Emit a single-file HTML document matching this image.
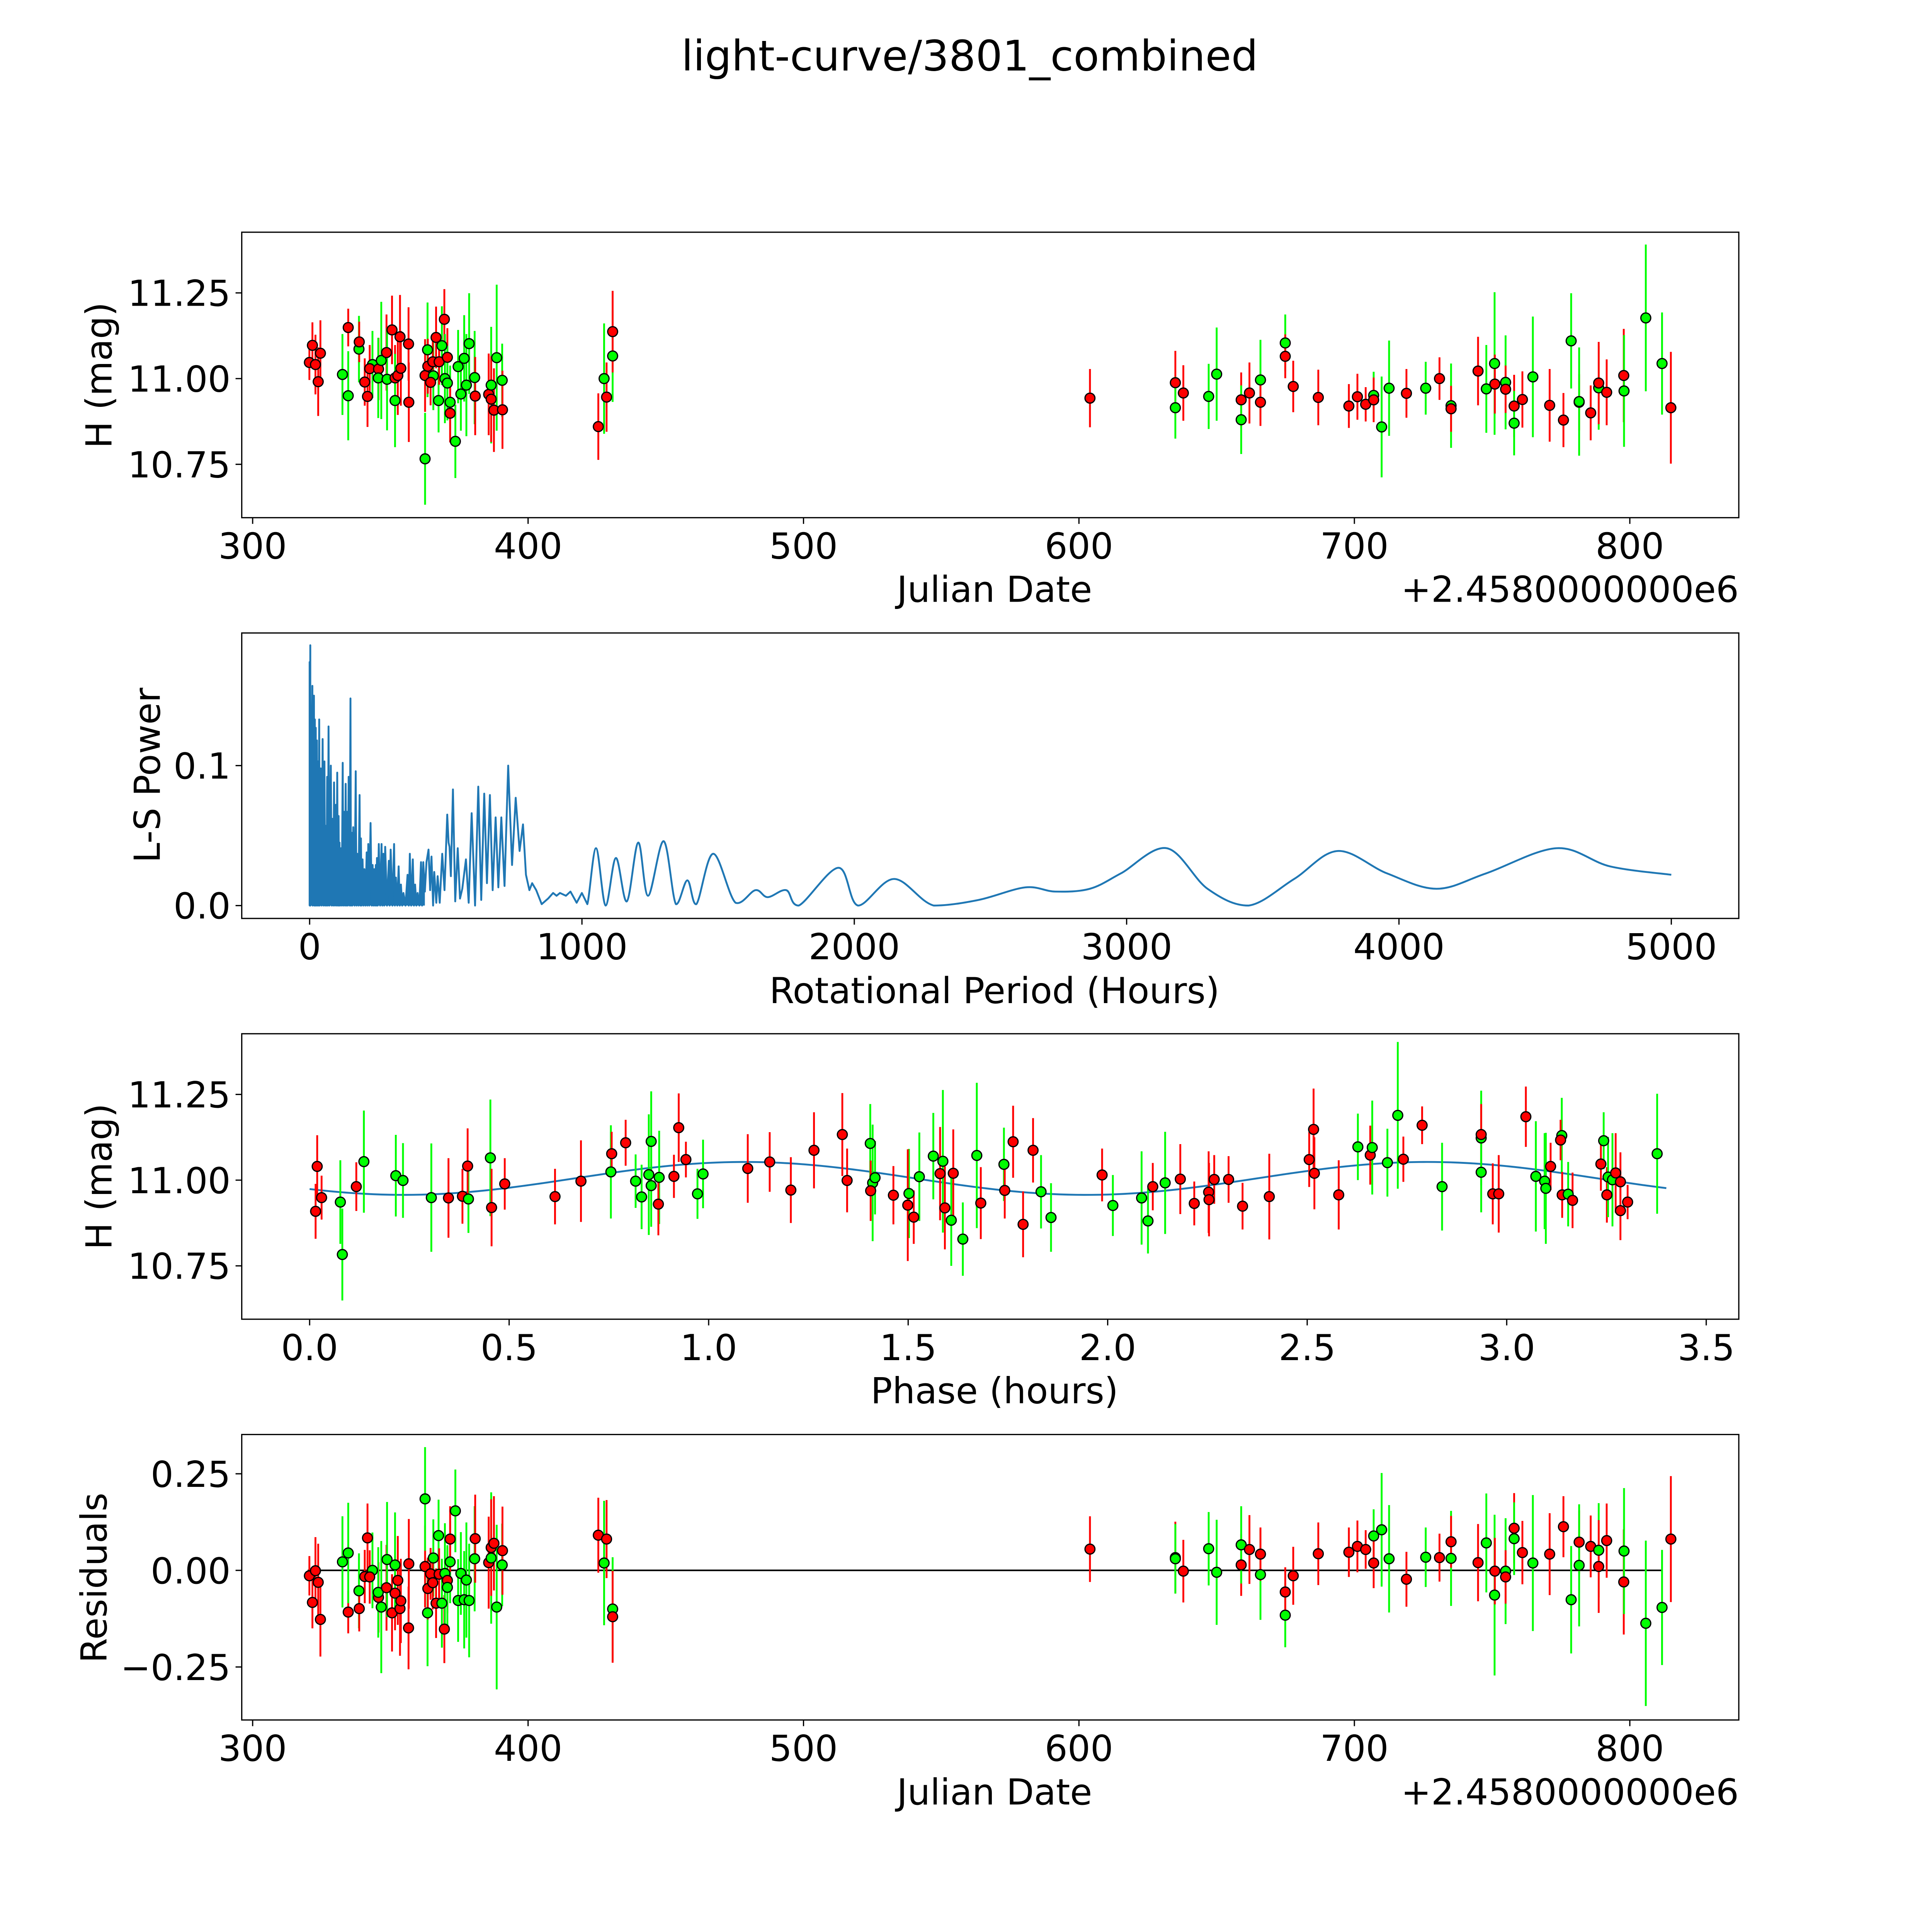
<!DOCTYPE html>
<html><head><meta charset="utf-8"><style>
html,body{margin:0;padding:0;background:#fff;width:100%;height:100%;overflow:hidden;}
svg{display:block;position:absolute;left:0;top:0;width:100vw;height:100vh;}
text{font-family:"DejaVu Sans","Liberation Sans",sans-serif;fill:#000;}
</style></head><body>
<svg id="fig" xmlns="http://www.w3.org/2000/svg" viewBox="0 0 1560 1560" preserveAspectRatio="none">
<rect x="0" y="0" width="1560" height="1560" fill="#fff"/>
<text x="783" y="57" font-size="34" text-anchor="middle">light-curve/3801_combined</text>
</svg>
<script>
// ---- time-domain observations ----
const jdDates = [320.6,321.7,322.8,324.6,323.8,332.6,334.7,334.7,338.6,338.7,340.7,341.7,343.5,342.5,345.7,345.6,346.7,348.6,348.8,350.6,351.7,351.7,352.7,353.5,353.8,356.6,356.7,362.6,362.6,363.5,363.6,365.6,364.6,365.4,366.6,367.5,367.7,368.7,369.6,369.8,370.7,370.7,371.7,371.7,373.6,374.6,375.6,376.8,377.6,378.6,380.6,380.8,385.7,386.6,386.6,387.6,388.6,390.6,390.7,425.5,427.6,428.5,430.7,430.7,604.0,635.0,635.0,637.9,647.1,650.0,658.9,658.9,661.9,665.9,665.9,674.9,674.9,677.8,686.9,698.0,701.1,704.1,707.0,707.0,709.9,712.6,718.9,725.9,730.9,735.1,735.1,744.9,747.9,750.9,751.0,754.9,754.9,758.0,758.0,761.0,764.8,770.9,775.9,778.7,781.6,781.6,785.8,788.7,788.7,791.6,797.8,797.9,805.8,811.7,814.9];
const magnitudes = [11.047,11.097,11.041,11.074,10.991,11.012,11.149,10.950,11.086,11.107,10.990,10.948,11.041,11.029,11.028,11.002,11.053,11.076,10.998,11.142,11.002,10.936,11.009,11.122,11.030,11.101,10.931,11.009,10.766,11.084,11.036,11.008,10.989,11.049,11.120,10.936,11.049,11.096,11.173,11.000,11.062,10.987,10.931,10.899,10.817,11.035,10.955,11.059,10.981,11.102,11.003,10.949,10.954,10.981,10.940,10.908,11.061,10.995,10.909,10.860,11.000,10.946,11.066,11.137,10.943,10.988,10.915,10.958,10.948,11.013,10.938,10.880,10.958,10.996,10.931,11.104,11.065,10.977,10.945,10.920,10.947,10.925,10.951,10.938,10.859,10.972,10.957,10.972,11.000,10.921,10.912,11.022,10.970,11.044,10.984,10.989,10.969,10.920,10.870,10.939,11.005,10.922,10.879,11.110,10.931,10.933,10.900,10.973,10.987,10.960,11.009,10.964,11.177,11.044,10.915];
const magErrors = [.051,.067,.087,.096,.10,.118,.055,.13,.097,.059,.069,.089,.098,.069,.091,.117,.171,.111,.149,.10,.096,.136,.115,.122,.109,.107,.116,.106,.134,.138,.08,.10,.067,.069,.09,.093,.067,.115,.088,.13,.085,.109,.107,.085,.107,.107,.107,.126,.149,.147,.136,.114,.119,.17,.125,.122,.213,.107,.114,.097,.161,.101,.134,.119,.085,.093,.09,.081,.095,.136,.08,.10,.089,.117,.069,.083,.064,.075,.081,.064,.067,.05,.069,.065,.147,.139,.071,.077,.062,.123,.067,.10,.128,.208,.086,.137,.069,.091,.094,.082,.176,.106,.079,.139,.082,.158,.08,.122,.12,.096,.136,.163,.214,.149,.163];
const filterBand = "RRRRRGRGGR RRGRRGGRGR RGRRRRRRGG RGRRRGRGRG RGGRGGGGGG GRRGRRGGRR GRGR R RGRGGRGRGR GRRRRRRGRG GRGRGR RGGRGRRGRG RRGRGRGRRR GGGR".replace(/ /g,'').split('');
const residuals = [-0.014,-0.083,-0.001,-0.127,-0.031,0.022,-0.108,0.045,-0.053,-0.099,-0.016,0.084,0.000,-0.017,-0.070,-0.057,-0.095,-0.045,0.028,-0.110,-0.059,0.014,-0.026,-0.099,-0.079,-0.149,0.017,0.010,0.185,-0.110,-0.047,0.032,-0.009,-0.032,-0.085,0.090,-0.010,-0.085,-0.152,-0.008,-0.026,-0.044,0.022,0.081,0.154,-0.078,-0.008,-0.076,-0.025,-0.078,0.030,0.082,0.020,0.032,0.059,0.070,-0.095,0.014,0.051,0.091,0.019,0.081,-0.100,-0.120,0.055,0.033,0.030,-0.002,0.056,-0.005,0.014,0.066,0.054,-0.011,0.042,-0.116,-0.056,-0.014,0.043,0.047,0.062,0.054,0.089,0.019,0.105,0.030,-0.023,0.034,0.033,0.031,0.074,0.020,0.071,-0.064,-0.002,-0.002,-0.017,0.109,0.082,0.046,0.019,0.042,0.113,-0.076,0.073,0.013,0.062,0.052,0.010,0.077,-0.030,0.050,-0.137,-0.096,0.081];
// ---- phase-folded observations ----
const phaseVals = [0.019,0.015,0.030,0.077,0.082,0.117,0.136,0.216,0.234,0.305,0.348,0.383,0.398,0.396,0.453,0.456,0.489,0.615,0.680,0.755,0.757,0.792,0.817,0.832,0.850,0.856,0.856,0.876,0.874,0.913,0.925,0.943,0.972,0.986,1.098,1.153,1.206,
1.264,1.335,1.347,1.405,1.411,1.406,1.417,1.463,1.502,1.499,1.514,1.528,1.563,1.580,1.587,1.592,1.613,1.608,1.637,1.672,1.682,1.740,1.742,1.763,1.788,1.813,1.833,1.858,1.986,2.013,2.085,2.101,2.113,2.144,2.182,2.217,2.253,2.254,2.267,2.303,2.338,2.405,2.505,2.516,2.518,2.579,2.627,2.658,2.663,
2.701,2.727,2.741,2.788,2.838,2.936,2.936,2.936,2.965,2.980,3.048,3.073,3.095,3.098,3.110,3.138,3.135,3.139,3.154,3.165,3.236,3.243,3.251,3.254,3.265,3.273,3.285,3.285,3.303,3.377];
const phaseMags = [11.040,10.909,10.949,10.936,10.783,10.981,11.054,11.013,10.999,10.949,10.948,10.953,10.945,11.041,11.065,10.920,10.989,10.952,10.997,11.024,11.077,11.109,10.997,10.951,11.016,11.113,10.984,11.008,10.930,11.011,11.153,11.060,10.960,11.018,11.034,11.053,10.971,
11.087,11.133,10.999,11.107,10.992,10.969,11.007,10.956,10.961,10.927,10.892,11.010,11.070,11.019,11.055,10.919,11.020,10.883,10.828,11.072,10.933,11.046,10.970,11.112,10.871,11.087,10.966,10.891,11.015,10.926,10.948,10.881,10.981,10.992,11.003,10.932,10.965,10.943,11.002,11.002,10.924,10.952,11.060,11.148,11.020,10.957,11.097,11.073,11.095,
11.051,11.189,11.061,11.160,10.981,11.123,11.133,11.023,10.960,10.960,11.185,11.011,10.997,10.976,11.040,11.130,11.117,10.957,10.959,10.941,11.047,11.115,10.957,11.009,11.001,11.021,10.995,10.911,10.936,11.077];
const phaseErrs = [.091,.08,.064,.122,.134,.071,.149,.119,.109,.158,.116,.08,.099,.110,.17,.113,.075,.081,.119,.136,.064,.067,.078,.094,.176,.146,.12,.136,.091,.063,.10,.052,.073,.10,.10,.087,.096,
.111,.121,.093,.115,.17,.088,.107,.085,.13,.163,.078,.129,.126,.136,.208,.121,.128,.133,.107,.212,.105,.107,.082,.105,.096,.094,.107,.10,.077,.089,.136,.095,.069,.149,.102,.064,.119,.107,.071,.068,.068,.125,.08,.119,.105,.101,.097,.086,.137,
.099,.214,.066,.055,.128,.138,.089,.117,.089,.113,.088,.161,.14,.162,.069,.11,.059,.067,.094,.081,.078,.083,.081,.117,.136,.116,.086,.086,.05,.175];
const phaseBand = "RRRGGRGGGG RRGRGRRRRG RRGGGGGGRR RRGGRRR RRRGGRGRGR RGGRGRRGGG RGRRRRGGRG GGRGRRRRRR RRRRRRGRG GGRRGGRGRR RGGGRGRRGR RGRGGRRRRG".replace(/ /g,'').split('');
// ---- periodogram ----
const periodHours = [0,0,0.5,2.5,3,10.1,11,15.9,17,19.3,20.5,22.6,24,26.8,28.5,31.0,33,35.2,37,41.1,44,47.8,51,54.5,57,59.5,62,64.5,67,69.5,73,77.9,81,83.8,87,89.7,93,96.4,99,101.4,104,106.4,108,109.8,112,115.6,118,121.5,124,127.4,130,132.4,135,137.4,140,143.3,147,150.0,152,155.0,157,160.1,165,169.3,172,175.1,179,183.5,186,188.5,191,194.4,198,201.1,205,209.5,212,215.4,219,223.8,228,231.4,234,237.2,240,243.1,245,247.3,250,254.0,259,264.1,267,270.8,274,277.5,284,290.9,294,297.6,304,310.2,313,316.9,322,326.9,331,335.3,340,344.5,352,359.6,364,368.0,373,378.9,383,387.3,392,396.5,403,409.0,413,417.3,423.2,429.1,436.6,442.5,447.5,453.4,457.6,465.1,470.1,477.7,486.9,495.3,505.3,510.3,513.7,518.7,526.3,534.6,543.9,552.2,560.6,574.0,584.1,595.0,607.5,619.3,630.2,641.1,651.1,662.0,672.1,683.0,693.0,703.9,715.7,729.1,743.3,756.7,771.0,783.5,794.4,807.0,817.1,832.1,852.2,875.7,894.1,906.7,919.3,941.1,957.8,980.5,999.7,1019.8,1051.7,1086.9,1124.6,1164.8,1206.7,1242.8,1300,1345,1387,1420,1482,1564,1637,1682,1750,1796,1942,2014,2146,2292,2456,2628,2738,2865,2979,3147,3297,3447,3615,3775,3956,4138,4320,4579,4775,5000];
const lsPower = [0,.174,0,.186,0,.157,0,.150,0,.133,0,.127,0,.118,0,.103,0,.133,0,.098,0,.119,0,.103,0,.057,0,.092,0,.128,0,.100,0,.062,0,.088,0,.072,0,.095,0,.064,0,.045,0,.041,0,.102,0,.067,0,.087,0,.067,0,.092,0,.148,0,.052,0,.056,0,.096,0,.037,0,.079,0,.048,0,.033,0,.026,0,.038,0,.044,0,.059,0,.029,0,.026,0,.029,0,.034,0,.044,0,.044,0,.037,0,.042,0,.032,0,.040,0,.044,0,.020,0,.028,0,.015,0,.009,0,.022,0,.037,0,.033,0,.015,0,.009,0,.031,0,.031,.010,.031,.040,.011,.035,.000,.024,.002,.021,.002,.037,.011,.065,.045,.042,.021,.083,.003,.041,.005,.012,.033,.002,.066,.000,.085,.004,.080,.016,.079,.011,.063,.013,.063,.014,.100,.029,.077,.039,.058,.022,.011,.016,.011,.001,.005,.009,.007,.009,.007,.010,.002,.009,.001,.041,.000,.034,.003,.045,.007,.046,.001,.018,.001,.037,.002,.011,.006,.011,.000,.027,.000,.019,.000,.004,.013,.010,.012,.023,.041,.012,.000,.019,.039,.023,.012,.023,.041,.028,.022];
// ---- model + ticks ----
const modelMean = 11.005, modelAmp = 0.048, modelMin = 0.236, modelPeriod = 1.71;
const jdTicks = [300,400,500,600,700,800];
const magTicks = [11.25,11.00,10.75];
const magTickLabels = ["11.25","11.00","10.75"];
const powerTicks = [0,0.1];
const powerTickLabels = ["0.0","0.1"];
const periodTicks = [0,1000,2000,3000,4000,5000];
const phaseTicks = [0,0.5,1,1.5,2,2.5,3,3.5];
const phaseTickLabels = ["0.0","0.5","1.0","1.5","2.0","2.5","3.0","3.5"];
const residTicks = [0.25,0,-0.25];
const residTickLabels = ["0.25","0.00","\u22120.25"];

const NS="http://www.w3.org/2000/svg";
const fig=document.getElementById('fig');
function mk(tag,attrs,parent){const e=document.createElementNS(NS,tag);for(const k in attrs)e.setAttribute(k,attrs[k]);(parent||fig).appendChild(e);return e;}
function model(p){return modelMean+modelAmp*Math.sin(2*Math.PI*(p-modelMin)/modelPeriod-Math.PI/2);}

const L=195.2,R=1404,H=230.5;
const tops=[187.5,511.1,834.7,1158.3];
const xJD=v=>204+(v-300)*2.224;
const yMag=t=>v=>t+118.2-(v-11)*276.8;
const xPer=v=>250+v*0.2199;
const yPow=v=>731.2-v*1130;
const xPh=v=>250+v*322.2;
const yRes=v=>1268-v*312;

function frame(i,name){
  const r=mk('rect',{x:L,y:tops[i],width:R-L,height:H,fill:'none',stroke:'#000','stroke-width':1});
  
  
}
function xTicks(i,vals,labels,fx,name){
  const b=tops[i]+H;
  vals.forEach((v,k)=>{
    const x=fx(v);
    const t=mk('line',{x1:x,x2:x,y1:b,y2:b+5,stroke:'#000','stroke-width':1});
    
    
    const tx=mk('text',{x:x,y:b+33,'font-size':29,'text-anchor':'middle'});
    tx.textContent=labels[k];
    
    
  });
}
function yTicks(vals,labels,fy,name){
  vals.forEach((v,k)=>{
    const y=fy(v);
    const t=mk('line',{x1:L-5,x2:L,y1:y,y2:y,stroke:'#000','stroke-width':1});
    
    
    const tx=mk('text',{x:L-9,y:y+10.5,'font-size':29,'text-anchor':'end'});
    tx.textContent=labels[k];
    
    
  });
}
function label(x,y,txt,rot,name){
  const t=mk('text',{x:x,y:y,'font-size':29,'text-anchor':'middle'});
  if(rot)t.setAttribute('transform','rotate(-90 '+x+' '+y+')');
  t.textContent=txt;
  
  
}
function errPoints(fx,fy,xs,ys,es,band,name){
  const g=mk('g',{});
  
  
  xs.forEach((xv,i)=>{
    const col=band[i]==='R'?'#ff0000':'#00ff00';
    const x=fx(xv);
    const l=mk('line',{x1:x,x2:x,y1:fy(ys[i]-es[i]),y2:fy(ys[i]+es[i]),stroke:col,'stroke-width':1.5},g);
    
    
  });
  xs.forEach((xv,i)=>{
    const col=band[i]==='R'?'#ff0000':'#00ff00';
    const c=mk('circle',{cx:fx(xv),cy:fy(ys[i]),r:4.0,fill:col,stroke:'#000','stroke-width':1},g);
    
    
  });
}

// Panel 1
frame(0,'light-curve-panel');
const y1=yMag(tops[0]);
xTicks(0,jdTicks,jdTicks.map(String),xJD,'light-curve');
yTicks(magTicks,magTickLabels,y1,'light-curve');
label(803,486,'Julian Date',false,'light-curve-x-axis-title');
label(90,303,'H (mag)',true,'light-curve-y-axis-title');
{const t=mk('text',{x:R,y:486,'font-size':29,'text-anchor':'end'});t.textContent='+2.4580000000e6';

}
errPoints(xJD,y1,jdDates,magnitudes,magErrors,filterBand,'light-curve');

// Panel 2
frame(1,'periodogram-panel');
xTicks(1,periodTicks,periodTicks.map(String),xPer,'periodogram');
yTicks(powerTicks,powerTickLabels,yPow,'periodogram');
label(803,810,'Rotational Period (Hours)',false,'periodogram-x-axis-title');
label(129,626,'L-S Power',true,'periodogram-y-axis-title');
{
  const pts=periodHours.map((h,i)=>[xPer(h),yPow(lsPower[i]),h]);
  const split=pts.findIndex(p=>p[2]>=420);
  let dd='';
  for(let i=0;i<=split;i++){dd+=(i?'L':'M')+pts[i][0].toFixed(2)+' '+pts[i][1].toFixed(2)+' ';}
  const dense=mk('path',{d:dd+'L'+pts[split][0].toFixed(2)+' '+yPow(0)+' Z',fill:'#1f77b4',stroke:'none'});
  
  
  let ds='M'+pts[0][0].toFixed(2)+' '+pts[0][1].toFixed(2);
  for(let i=0;i<pts.length-1;i++){
    const p0=pts[Math.max(0,i-1)],p1=pts[i],p2=pts[i+1],p3=pts[Math.min(pts.length-1,i+2)];
    if(p1[2]>=1000){
      const c1x=p1[0]+(p2[0]-p0[0])/6,c1y=p1[1]+(p2[1]-p0[1])/6;
      const c2x=p2[0]-(p3[0]-p1[0])/6,c2y=p2[1]-(p3[1]-p1[1])/6;
      ds+=' C'+c1x.toFixed(2)+' '+Math.min(c1y,yPow(0)).toFixed(2)+' '+c2x.toFixed(2)+' '+Math.min(c2y,yPow(0)).toFixed(2)+' '+p2[0].toFixed(2)+' '+p2[1].toFixed(2);
    } else {
      ds+=' L'+p2[0].toFixed(2)+' '+p2[1].toFixed(2);
    }
  }
  const line=mk('path',{d:ds,fill:'none',stroke:'#1f77b4','stroke-width':1.5,'stroke-linejoin':'round'});
  
  
}

// Panel 3
frame(2,'phase-panel');
const y3=yMag(tops[2]);
xTicks(2,phaseTicks,phaseTickLabels,xPh,'phase');
yTicks(magTicks,magTickLabels,y3,'phase');
label(803,1133,'Phase (hours)',false,'phase-x-axis-title');
label(90,950,'H (mag)',true,'phase-y-axis-title');
{let d='';for(let k=0;k<=170;k++){const p=k*0.02;d+=(k?'L':'M')+xPh(p).toFixed(2)+' '+y3(model(p)).toFixed(2)+' ';}
const m=mk('path',{d:d,fill:'none',stroke:'#1f77b4','stroke-width':1.5});

}
errPoints(xPh,y3,phaseVals,phaseMags,phaseErrs,phaseBand,'phase');

// Panel 4
frame(3,'residuals-panel');
xTicks(3,jdTicks,jdTicks.map(String),xJD,'residuals');
yTicks(residTicks,residTickLabels,yRes,'residuals');
label(803,1457,'Julian Date',false,'residuals-x-axis-title');
label(86,1274,'Residuals',true,'residuals-y-axis-title');
{const t=mk('text',{x:R,y:1457,'font-size':29,'text-anchor':'end'});t.textContent='+2.4580000000e6';

}
{const z=mk('line',{x1:xJD(320),x2:xJD(812),y1:yRes(0),y2:yRes(0),stroke:'#000','stroke-width':1.3});

}
errPoints(xJD,yRes,jdDates,residuals,magErrors,filterBand,'residuals');
</script>
</body></html>
